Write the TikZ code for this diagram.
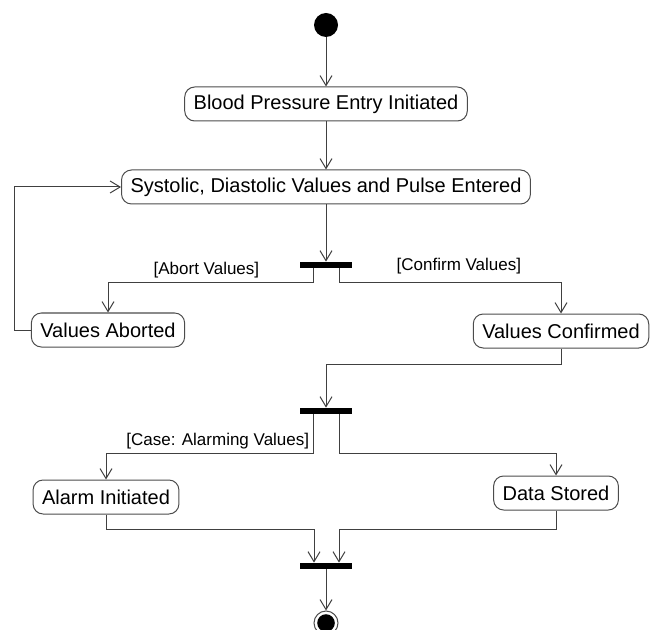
\documentclass[tikz,border=0pt]{standalone}
\usepackage{fontspec}
\setmainfont{Liberation Sans}
\usetikzlibrary{arrows.meta}
\begin{document}
\begin{tikzpicture}[x=0.5pt, y=-0.5pt]
		\def\mcol{326}
		\def\lcol{107}
		\def\rcol{558}

		\tikzset{
			basic/.style={rectangle, rounded corners=5pt, draw=black!70, line width=0.5pt, text centered, font=\fontsize{10}{12}\selectfont, inner xsep=4.5pt, minimum height=17pt},
			bar/.style={rectangle, fill=black, minimum width=26pt, minimum height=3pt, inner sep=0pt},
			startnode/.style={circle, fill=black, minimum size=12pt, inner sep=0pt},
			endnode/.style={circle, draw=black!70, line width=0.5pt, minimum size=12pt, inner sep=0pt, path picture={\fill[black] (path picture bounding box.center) circle (4.4pt);}},
			guard/.style={font=\fontsize{8.5}{10}\selectfont, inner sep=2pt},
			sarrow/.style={-{Straight Barb[length=5pt, width=6pt]}, draw=black!75, line width=0.5pt}
		}

		\useasboundingbox (0,0) rectangle (652,630);

		% activities

		\node[startnode] (start) at (\mcol,25) {};
		\node[basic] (entry) at (\mcol,104) {Blood Pressure Entry Initiated};
		\node[basic] (values) at (\mcol,187) {Systolic, Diastolic Values and Pulse Entered};
		\node[bar] (fork1) at (\mcol,265) {};
		\node[basic] (aborted) at (108,330) {Values Aborted};
		\node[basic] (confirmed) at (561,331) {Values Confirmed};
		\node[bar] (fork2) at (\mcol,411) {};
		\node[basic] (alarm) at (106,497) {Alarm Initiated};
		\node[basic] (stored) at (556,493) {Data Stored};
		\node[bar] (join) at (\mcol,566) {};
		\node[endnode] (end) at (\mcol,623) {};

		% flows

		\draw[sarrow] (start) -- (entry);
		\draw[sarrow] (entry) -- (values);
		\draw[sarrow] (values) -- (fork1);

		\draw[sarrow] ([xshift=-6.5pt]fork1.south) -- ++(0,14) -| node[pos=0.26, guard, above] {[Abort Values]} (aborted.north);
		\draw[sarrow] ([xshift=6.5pt]fork1.south) -- ++(0,14) -| node[pos=0.27, guard, above, yshift=2pt] {[Confirm Values]} (confirmed.north);
		\draw[sarrow] (aborted.west) -- ++(-16,0) |- (values.west);

		\draw[sarrow] (confirmed.south) -- ++(0,16) -| (fork2.north);

		\draw[sarrow] ([xshift=-6.5pt]fork2.south) -- ++(0,39) -| node[pos=0.23, guard, above] {[Case: Alarming Values]} (alarm.north);
		\draw[sarrow] ([xshift=6.5pt]fork2.south) -- ++(0,39) -| (stored.north);

		\draw[sarrow] (alarm.south) -- ++(0,15) -| ([xshift=-6pt]join.north);
		\draw[sarrow] (stored.south) -- ++(0,19) -| ([xshift=6.5pt]join.north);
		\draw[sarrow] (join) -- (end);
\end{tikzpicture}
\end{document}
